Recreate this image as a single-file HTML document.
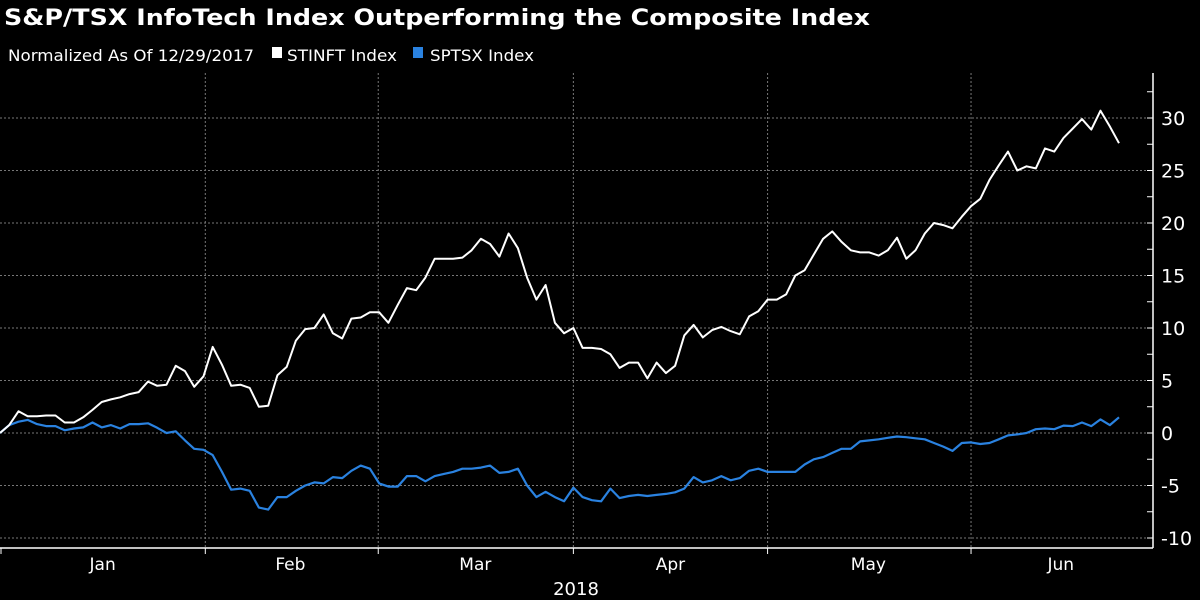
<!DOCTYPE html>
<html><head><meta charset="utf-8"><style>
html,body{margin:0;padding:0;background:#000;}
svg{display:block;font-family:"DejaVu Sans","Liberation Sans",sans-serif;}
</style></head><body>
<svg id="chart" width="1200" height="600" viewBox="0 0 1200 600" xmlns="http://www.w3.org/2000/svg">
<rect x="0" y="0" width="1200" height="600" fill="#000"/>
<text x="4" y="25" fill="#fff" font-size="22" font-weight="bold" textLength="866" lengthAdjust="spacingAndGlyphs">S&amp;P/TSX InfoTech Index Outperforming the Composite Index</text>
<g>
<text x="8" y="61" fill="#fff" font-size="16" textLength="246" lengthAdjust="spacingAndGlyphs">Normalized As Of 12/29/2017</text>
<rect x="272" y="47" width="10" height="11" fill="#fff"/>
<text x="287" y="61" fill="#fff" font-size="16" textLength="110" lengthAdjust="spacingAndGlyphs">STINFT Index</text>
<rect x="413" y="47" width="10" height="11" fill="#2a82e0"/>
<text x="430" y="61" fill="#fff" font-size="16" textLength="104" lengthAdjust="spacingAndGlyphs">SPTSX Index</text>
</g>
<g id="grid"></g>
<g id="axes"></g>
<g id="series"></g>
</svg>
<script>
const stinft = [0,0.75,2.07,1.6,1.6,1.67,1.67,1.0,1.0,1.5,2.2,2.95,3.2,3.4,3.7,3.9,4.9,4.5,4.6,6.4,
5.9,4.4,5.4,8.2,6.5,4.5,4.6,4.3,2.5,2.6,5.5,6.3,8.8,9.9,10.0,11.3,9.5,9.0,10.9,11.0,
11.5,11.5,10.5,12.2,13.8,13.6,14.8,16.6,16.6,16.6,16.7,17.4,18.5,18.0,16.8,19.0,17.6,14.8,12.7,14.1,
10.5,9.5,10.0,8.1,8.1,8.0,
7.5,6.2,6.7,6.7,5.2,6.7,5.7,6.4,9.3,10.3,9.1,9.8,10.1,9.7,9.4,11.1,11.6,12.7,12.7,13.2,
15.0,15.5,17.0,18.5,19.2,18.2,17.4,17.2,17.2,16.9,17.4,18.6,16.6,17.4,19.0,20.0,19.8,19.5,20.6,21.6,
22.3,24.1,25.5,26.8,25.0,25.4,25.2,27.1,26.8,28.1,29.0,29.9,28.9,30.7,29.2,27.6];
const sptsx = [0,0.75,1.08,1.25,0.85,0.66,0.66,0.26,0.43,0.53,1.0,0.53,0.75,0.43,0.85,0.85,0.92,0.5,0,0.16,
-0.7,-1.5,-1.6,-2.1,-3.7,-5.4,-5.3,-5.5,-7.1,-7.3,-6.1,-6.1,-5.5,-5.0,-4.7,-4.8,-4.2,-4.3,-3.6,-3.1,
-3.4,-4.8,-5.1,-5.1,-4.1,-4.1,-4.6,-4.1,-3.9,-3.7,-3.4,-3.4,-3.3,-3.1,-3.8,-3.7,-3.4,-5.0,-6.1,-5.6,
-6.1,-6.5,-5.2,-6.1,-6.4,-6.5,
-5.3,-6.2,-6.0,-5.9,-6.0,-5.9,-5.8,-5.65,-5.3,-4.2,-4.7,-4.5,-4.1,-4.5,-4.3,-3.6,-3.4,-3.7,-3.7,-3.7,
-3.7,-3.0,-2.5,-2.3,-1.9,-1.5,-1.5,-0.8,-0.7,-0.6,-0.46,-0.33,-0.4,-0.5,-0.6,-0.95,-1.3,-1.7,-0.95,-0.9,
-1.05,-0.95,-0.6,-0.23,-0.13,0,0.36,0.43,0.36,0.7,0.66,1.0,0.66,1.3,0.75,1.5];
const yTicks = [-10,-5,0,5,10,15,20,25,30];
const yTickLabels = ["-10","-5","0","5","10","15","20","25","30"];
const monthLabels = ["Jan","Feb","Mar","Apr","May","Jun"];
const monthBoundaryIdx = [22.2,40.9,62,83,105];
const monthLabelIdx = [11.1,31.4,51.4,72.5,93.9,114.7];

const NS='http://www.w3.org/2000/svg';
const X0=0, STEP=1119/121, AXX=1153, TOP=73, BOT=548;
function xs(i){return X0+i*STEP;}
function ys(v){return 433-v*10.5;}
function mk(tag,attrs,parent){const e=document.createElementNS(NS,tag);for(const k in attrs)e.setAttribute(k,attrs[k]);parent.appendChild(e);return e;}
const grid=document.getElementById('grid'), axes=document.getElementById('axes'), series=document.getElementById('series');

yTicks.forEach((v,k)=>{
  const l=mk('line',{x1:0,x2:AXX,y1:ys(v),y2:ys(v),stroke:'#777','stroke-width':1,'stroke-dasharray':'2,2'},grid);
  
  
  const t=mk('line',{x1:AXX-6,x2:AXX,y1:ys(v),y2:ys(v),stroke:'#fff','stroke-width':1},axes);
  
  
  const m=mk('line',{x1:AXX-6,x2:AXX,y1:ys(v+2.5),y2:ys(v+2.5),stroke:'#fff','stroke-width':1},axes);
  
  
  const tx=mk('text',{x:AXX+8,y:ys(v)+7,fill:'#fff','font-size':19},axes);
  tx.textContent=yTickLabels[k];
  
  
});
monthBoundaryIdx.forEach(i=>{
  const l=mk('line',{x1:xs(i),x2:xs(i),y1:TOP,y2:BOT,stroke:'#777','stroke-width':1,'stroke-dasharray':'2,2'},grid);
  
  
  const t=mk('line',{x1:xs(i),x2:xs(i),y1:BOT,y2:BOT+6,stroke:'#fff','stroke-width':1},axes);
  
  
});
const t0=mk('line',{x1:1,x2:1,y1:BOT,y2:BOT+6,stroke:'#fff','stroke-width':1},axes);


monthLabels.forEach((m,k)=>{
  const tx=mk('text',{x:xs(monthLabelIdx[k]),y:570,fill:'#fff','font-size':17,'text-anchor':'middle'},axes);
  tx.textContent=m;
  
  
});
const yr=mk('text',{x:576,y:595,fill:'#fff','font-size':18,'text-anchor':'middle'},axes);
yr.textContent='2018';


const xa=mk('line',{x1:0,x2:AXX,y1:BOT,y2:BOT,stroke:'#fff','stroke-width':1.5},axes);


const ya=mk('line',{x1:AXX,x2:AXX,y1:TOP,y2:BOT,stroke:'#fff','stroke-width':1.5},axes);



function pts(arr){return arr.map((v,i)=>xs(i).toFixed(1)+','+ys(v).toFixed(1)).join(' ');}
const p2=mk('polyline',{points:pts(sptsx),fill:'none',stroke:'#2a82e0','stroke-width':2.2,'stroke-linejoin':'round'},series);


const p1=mk('polyline',{points:pts(stinft),fill:'none',stroke:'#fff','stroke-width':2,'stroke-linejoin':'round'},series);


</script>
</body></html>
